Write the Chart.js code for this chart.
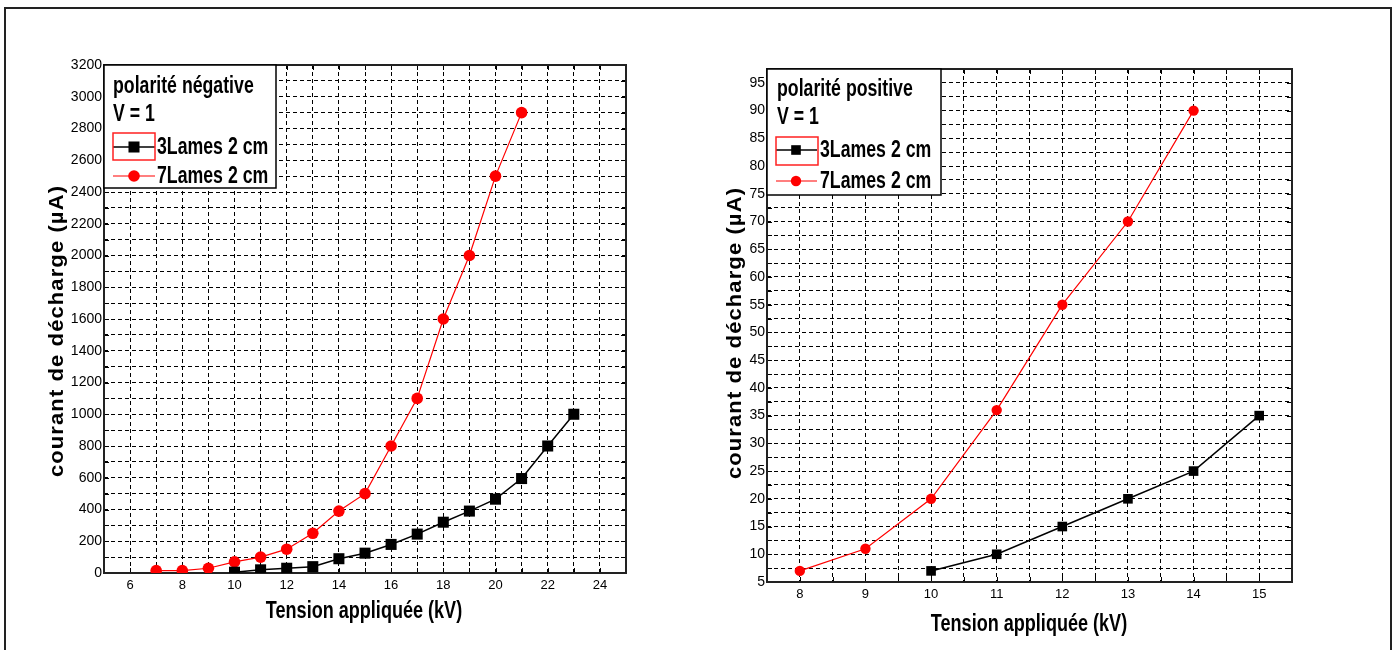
<!DOCTYPE html>
<html><head><meta charset="utf-8">
<script src="https://cdn.jsdelivr.net/npm/chart.js@4.4.0/dist/chart.umd.min.js"></script>
<style>
html,body{margin:0;padding:0;background:#fff;width:1398px;height:650px;overflow:hidden;position:relative}
#frame{position:absolute;left:4px;top:7px;width:1384px;height:720px;border:2px solid #222;box-sizing:content-box}
.wrap{position:absolute;top:0;height:650px}
#w1{left:0;width:700px}
#w2{left:700px;width:698px}
</style></head><body>
<div id="frame"></div>
<div class="wrap" id="w1"><canvas id="c1"></canvas></div>
<div class="wrap" id="w2"><canvas id="c2"></canvas></div>
<script>
// ---------- data ----------
const seriesLabels = ['3Lames 2 cm', '7Lames 2 cm'];
const negX3 = [10, 11, 12, 13, 14, 15, 16, 17, 18, 19, 20, 21, 22, 23];
const negY3 = [5, 20, 30, 40, 90, 125, 180, 245, 320, 390, 465, 595, 800, 1000];
const negX7 = [7, 8, 9, 10, 11, 12, 13, 14, 15, 16, 17, 18, 19, 20, 21];
const negY7 = [15, 15, 30, 70, 100, 150, 250, 390, 500, 800, 1100, 1600, 2000, 2500, 2900];
const posX3 = [10, 11, 12, 13, 14, 15];
const posY3 = [7, 10, 15, 20, 25, 35];
const posX7 = [8, 9, 10, 11, 12, 13, 14];
const posY7 = [7, 11, 20, 36, 55, 70, 90];
const negXTicks = [6, 8, 10, 12, 14, 16, 18, 20, 22, 24];
const negYTicks = [0, 200, 400, 600, 800, 1000, 1200, 1400, 1600, 1800, 2000, 2200, 2400, 2600, 2800, 3000, 3200];
const posXTicks = [8, 9, 10, 11, 12, 13, 14, 15];
const posYTicks = [5, 10, 15, 20, 25, 30, 35, 40, 45, 50, 55, 60, 65, 70, 75, 80, 85, 90, 95];
const xTitle = 'Tension appliquée (kV)';
const yTitle = 'courant de décharge (µA)';
const negTitle = ['polarité négative', 'V = 1'];
const posTitle = ['polarité positive', 'V = 1'];

const ARIAL = "'Liberation Sans',Arial,sans-serif";

function pts(xs, ys) { return xs.map((x, i) => ({x: x, y: ys[i]})); }
function near(list, v) { return list.some(t => Math.abs(t - v) < 1e-6); }

function drawMarker(ctx, style, r, x, y) {
  ctx.beginPath();
  if (style === 'rect') {
    const s = r * Math.SQRT1_2;
    ctx.rect(x - s, y - s, 2 * s, 2 * s);
  } else {
    ctx.arc(x, y, r, 0, Math.PI * 2);
  }
  ctx.fill();
}

// text squeezed horizontally (narrow bold look)
function narrowText(ctx, text, x, y, size, sx, align, rot, spacing) {
  ctx.save();
  ctx.translate(x, y);
  if (rot) ctx.rotate(rot);
  ctx.scale(sx, 1);
  ctx.font = 'bold ' + size + 'px ' + ARIAL;
  if (spacing) ctx.letterSpacing = spacing + 'px';
  ctx.textAlign = align;
  ctx.textBaseline = 'middle';
  ctx.fillStyle = '#000';
  ctx.fillText(text, 0, 0);
  ctx.restore();
}

const framePlugin = {
  id: 'plotFrame',
  beforeDatasetsDraw(chart) {
    const a = chart.chartArea, ctx = chart.ctx;
    const xs = chart.scales.x, ys = chart.scales.y;
    ctx.save();
    ctx.strokeStyle = '#000';
    ctx.lineWidth = 1;
    ctx.setLineDash([]);
    ctx.beginPath();
    xs.ticks.forEach(t => {
      const p = Math.round(xs.getPixelForValue(t.value)) + 0.5;
      ctx.moveTo(p, a.bottom); ctx.lineTo(p, a.bottom - 5);
      ctx.moveTo(p, a.top); ctx.lineTo(p, a.top + 5);
    });
    ys.ticks.forEach(t => {
      const p = Math.round(ys.getPixelForValue(t.value)) + 0.5;
      ctx.moveTo(a.left, p); ctx.lineTo(a.left + 5, p);
      ctx.moveTo(a.right, p); ctx.lineTo(a.right - 5, p);
    });
    ctx.stroke();
    ctx.lineWidth = 2;
    ctx.strokeStyle = '#222';
    ctx.strokeRect(a.left, a.top, a.right - a.left, a.bottom - a.top);
    ctx.restore();
  }
};

const titlePlugin = {
  id: 'axisTitles',
  afterDraw(chart, args, o) {
    const ctx = chart.ctx;
    narrowText(ctx, xTitle, o.xt[0], o.xt[1], 23, 0.785, 'center', 0, 0);
    narrowText(ctx, yTitle, o.yt[0], o.yt[1], 20, 1.1, 'center', -Math.PI / 2, 1);
  }
};

const legendPlugin = {
  id: 'boxLegend',
  afterDraw(chart, args, o) {
    const ctx = chart.ctx;
    ctx.save();
    ctx.fillStyle = '#fff';
    ctx.fillRect(o.x, o.y, o.w, o.h);
    ctx.lineWidth = 1.5;
    ctx.strokeStyle = '#000';
    ctx.strokeRect(o.x, o.y, o.w, o.h);
    o.lines.forEach((t, i) => narrowText(ctx, t, o.textX, o.lineY[i], 23, 0.77, 'left', 0, 0));
    chart.data.datasets.forEach((ds, i) => {
      const y = o.entryY[i];
      ctx.strokeStyle = ds.borderColor;
      ctx.lineWidth = ds.borderWidth;
      ctx.beginPath(); ctx.moveTo(o.sx0, y); ctx.lineTo(o.sx1, y); ctx.stroke();
      ctx.fillStyle = ds.pointBackgroundColor;
      drawMarker(ctx, ds.pointStyle, ds.pointRadius, o.mx, y);
      narrowText(ctx, ds.label, o.tx, y + 1, 23, 0.77, 'left', 0, 0);
    });
    ctx.strokeStyle = '#ff2020';
    ctx.lineWidth = 1.5;
    ctx.strokeRect(o.sel.x, o.sel.y, o.sel.w, o.sel.h);
    ctx.restore();
  }
};

function makeChart(id, c) {
  return new Chart(document.getElementById(id), {
    type: 'line',
    data: {
      datasets: [
        {label: seriesLabels[0], data: pts(c.x3, c.y3), borderColor: '#000', backgroundColor: '#000',
         borderWidth: 1.5, pointStyle: 'rect', pointRadius: c.sq, pointBackgroundColor: '#000',
         pointBorderWidth: 0, tension: 0, fill: false},
        {label: seriesLabels[1], data: pts(c.x7, c.y7), borderColor: '#ff0000', backgroundColor: '#ff0000',
         borderWidth: 1.2, pointStyle: 'circle', pointRadius: c.ci, pointBackgroundColor: '#ff0000',
         pointBorderWidth: 0, tension: 0, fill: false}
      ]
    },
    options: {
      responsive: true, maintainAspectRatio: false, animation: false,
      layout: {padding: c.pad},
      plugins: {legend: {display: false}, tooltip: {enabled: false}, boxLegend: c.legend, axisTitles: c.titles},
      scales: {
        x: {
          type: 'linear', min: c.xmin, max: c.xmax,
          afterFit(s) { s.height = c.xh; },
          ticks: {stepSize: c.xstep, autoSkip: false, maxRotation: 0, padding: c.xtp, color: '#000',
                  font: {family: ARIAL, size: 13},
                  callback: v => near(c.xticks, v) ? String(v) : ''},
          grid: {color: '#000', lineWidth: 1, drawTicks: false},
          border: {display: false, dash: [4, 3]},
          title: {display: false}
        },
        y: {
          type: 'linear', min: c.ymin, max: c.ymax,
          afterFit(s) { s.width = c.yw; },
          ticks: {stepSize: c.ystep, autoSkip: false, padding: 2, color: '#000',
                  font: {family: ARIAL, size: 14},
                  callback: v => near(c.yticks, v) ? String(v) : ''},
          grid: {color: '#000', lineWidth: 1, drawTicks: false},
          border: {display: false, dash: [4, 3]},
          title: {display: false}
        }
      }
    },
    plugins: [framePlugin, titlePlugin, legendPlugin]
  });
}

makeChart('c1', {
  x3: negX3, y3: negY3, x7: negX7, y7: negY7, sq: 7.8, ci: 5.8,
  pad: {top: 65, right: 74, left: 0, bottom: 0},
  xmin: 5, xmax: 25, xstep: 1, xticks: negXTicks, xh: 77, xtp: 5,
  ymin: 0, ymax: 3200, ystep: 100, yticks: negYTicks, yw: 104,
  titles: {xt: [364, 612], yt: [57, 331]},
  legend: {x: 104, y: 65, w: 172, h: 123, textX: 113,
           lines: negTitle, lineY: [87, 115],
           entryY: [147, 176], sx0: 113, sx1: 155, mx: 134, tx: 157,
           sel: {x: 113, y: 133, w: 42, h: 27}}
});

makeChart('c2', {
  x3: posX3, y3: posY3, x7: posX7, y7: posY7, sq: 6.8, ci: 5.2,
  pad: {top: 69, right: 106, left: 0, bottom: 0},
  xmin: 7.5, xmax: 15.5, xstep: 0.5, xticks: posXTicks, xh: 68, xtp: 5,
  ymin: 5, ymax: 97.5, ystep: 2.5, yticks: posYTicks, yw: 67,
  titles: {xt: [329, 625], yt: [35, 333]},
  legend: {x: 67, y: 69, w: 174, h: 126, textX: 77,
           lines: posTitle, lineY: [90, 118],
           entryY: [150, 181], sx0: 76, sx1: 117, mx: 96, tx: 120,
           sel: {x: 76, y: 137, w: 42, h: 28}}
});
</script>
</body></html>
